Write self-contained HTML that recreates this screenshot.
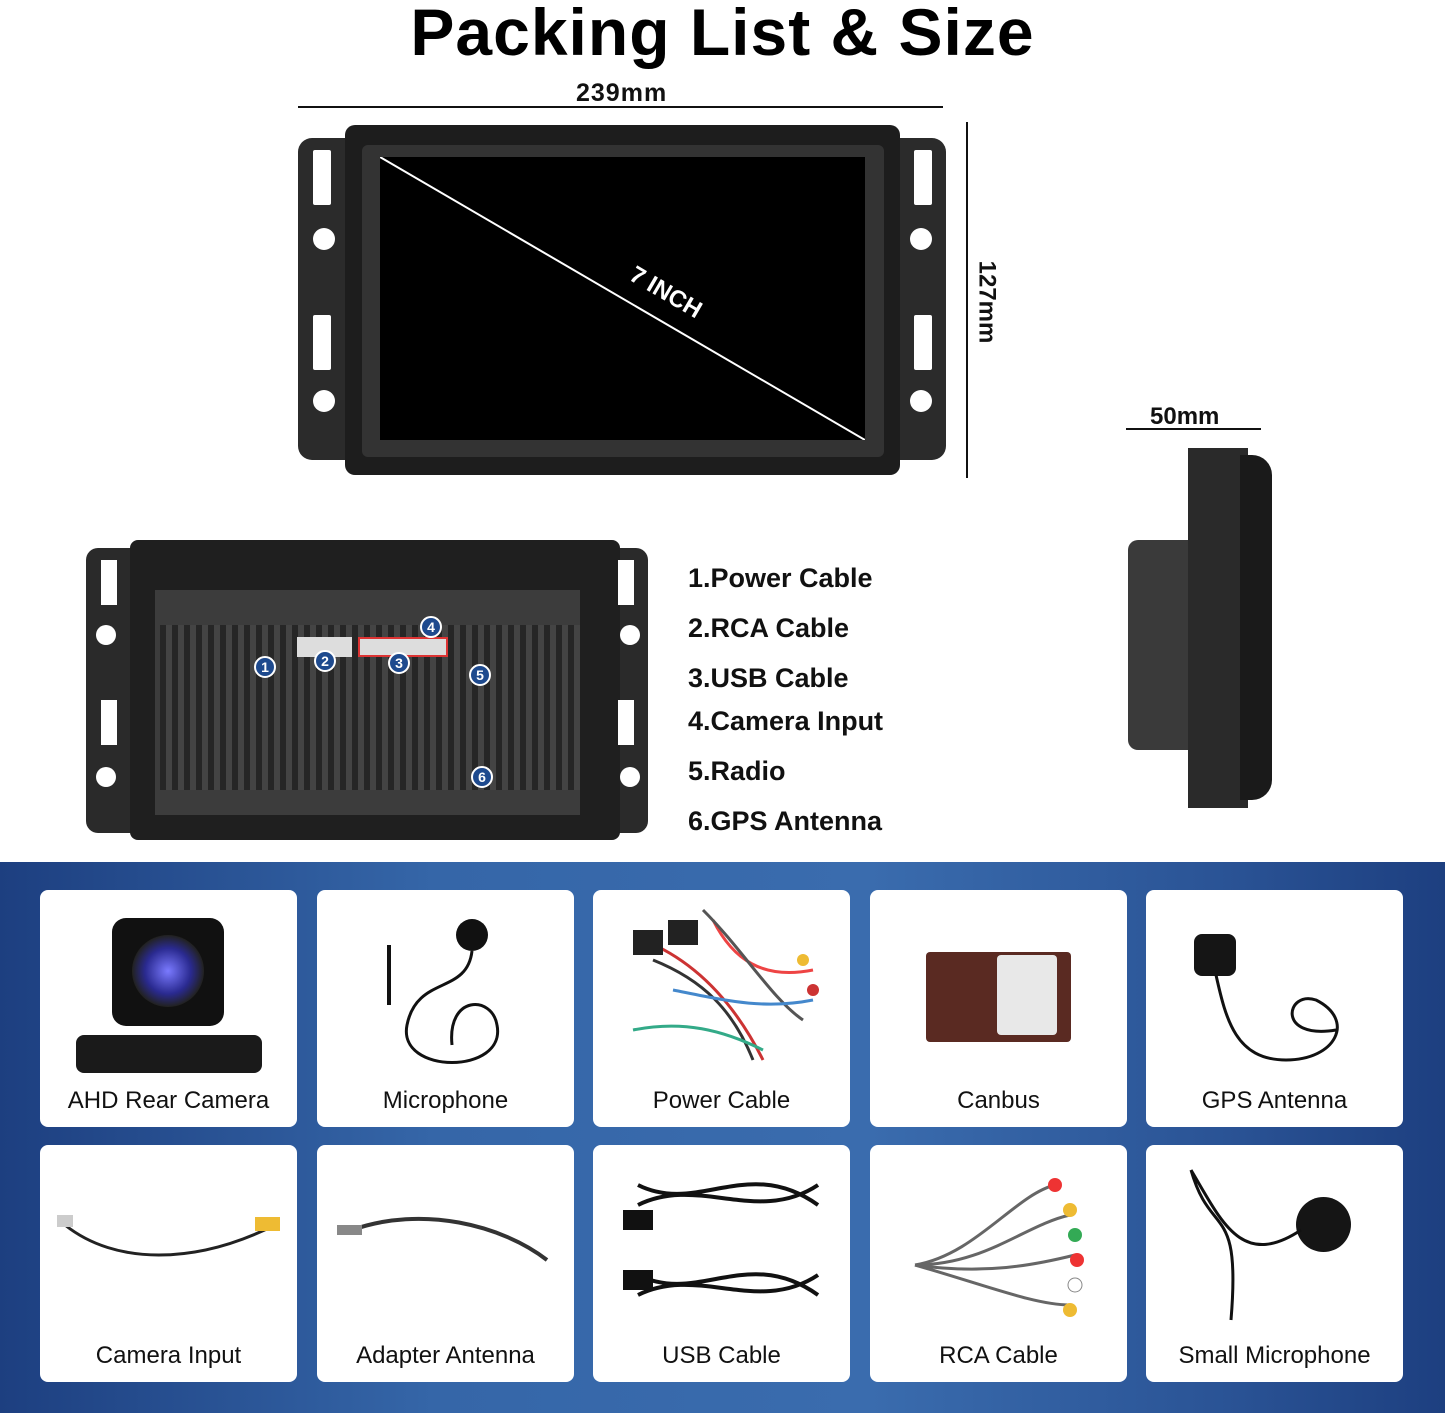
<!DOCTYPE html>
<html><head><meta charset="utf-8"><style>
*{margin:0;padding:0;box-sizing:border-box}
body{width:1445px;height:1413px;position:relative;background:#fff;font-family:"Liberation Sans",sans-serif;overflow:hidden}
.abs{position:absolute}
.title{left:0;width:1445px;top:-6px;text-align:center;font-size:66px;font-weight:900;letter-spacing:1px;color:#000}
.dim{font-size:24px;font-weight:bold;color:#111}
.list{left:688px;font-size:27px;font-weight:bold;color:#111}
.blue{left:0;top:862px;width:1445px;height:551px;background:linear-gradient(90deg,#1d3f80 0%,#3566a8 30%,#3a6cae 60%,#2a5395 85%,#1d3f80 100%)}
.card{position:absolute;width:257px;height:237px;background:#fff;border-radius:8px}
.card span{position:absolute;left:0;right:0;bottom:12px;text-align:center;font-size:24px;color:#111}
.badge{position:absolute;width:22px;height:22px;border-radius:50%;background:#1e4a8e;border:2px solid #fff;color:#fff;font-size:14px;font-weight:bold;text-align:center;line-height:18px}
</style></head><body>
<div class="abs title">Packing List &amp; Size</div>

<div class="abs dim" style="left:576px;top:79px;font-size:25px;letter-spacing:1px">239mm</div>
<div class="abs" style="left:298px;top:106px;width:645px;height:2px;background:#111"></div>
<div class="abs" style="left:966px;top:122px;width:2px;height:356px;background:#111"></div>
<div class="abs dim" style="left:945px;top:288px;transform:rotate(90deg);transform-origin:center">127mm</div>

<div class="abs" style="left:298px;top:138px;width:648px;height:322px;background:#2b2b2b;border-radius:14px"></div>
<div class="abs" style="left:345px;top:125px;width:555px;height:350px;background:#1d1d1d;border-radius:10px"></div>
<div class="abs" style="left:362px;top:145px;width:522px;height:312px;background:#333;border-radius:6px"></div>
<div class="abs" style="left:380px;top:157px;width:485px;height:283px;background:#000"></div>
<svg class="abs" style="left:380px;top:157px" width="485" height="283"><line x1="0" y1="0" x2="485" y2="283" stroke="#fff" stroke-width="2"/><text x="282" y="142" fill="#fff" font-family="Liberation Sans" font-weight="bold" font-size="24" transform="rotate(30.3 282 142)" text-anchor="middle">7 INCH</text></svg>
<div class="abs" style="left:313px;top:150px;width:18px;height:55px;background:#fff;border-radius:2px"></div>
<div class="abs" style="left:313px;top:315px;width:18px;height:55px;background:#fff;border-radius:2px"></div>
<div class="abs" style="left:313px;top:228px;width:22px;height:22px;background:#fff;border-radius:50%"></div>
<div class="abs" style="left:313px;top:390px;width:22px;height:22px;background:#fff;border-radius:50%"></div>
<div class="abs" style="left:914px;top:150px;width:18px;height:55px;background:#fff;border-radius:2px"></div>
<div class="abs" style="left:914px;top:315px;width:18px;height:55px;background:#fff;border-radius:2px"></div>
<div class="abs" style="left:910px;top:228px;width:22px;height:22px;background:#fff;border-radius:50%"></div>
<div class="abs" style="left:910px;top:390px;width:22px;height:22px;background:#fff;border-radius:50%"></div>

<div class="abs dim" style="left:1150px;top:403px">50mm</div>
<div class="abs" style="left:1126px;top:428px;width:135px;height:2px;background:#111"></div>
<div class="abs" style="left:1128px;top:540px;width:80px;height:210px;background:#3a3a3a;border-radius:10px"></div>
<div class="abs" style="left:1188px;top:448px;width:60px;height:360px;background:#2a2a2a"></div>
<div class="abs" style="left:1240px;top:455px;width:32px;height:345px;background:#1a1a1a;border-radius:0 20px 20px 0"></div>

<div class="abs" style="left:86px;top:548px;width:562px;height:285px;background:#2a2a2a;border-radius:12px"></div>
<div class="abs" style="left:130px;top:540px;width:490px;height:300px;background:#1f1f1f;border-radius:8px"></div>
<div class="abs" style="left:155px;top:590px;width:425px;height:225px;background:#3c3c3c"></div>
<div class="abs" style="left:160px;top:625px;width:420px;height:165px;background:repeating-linear-gradient(90deg,#262626 0 6px,#444 6px 12px)"></div>
<div class="abs" style="left:101px;top:560px;width:16px;height:45px;background:#fff"></div>
<div class="abs" style="left:101px;top:700px;width:16px;height:45px;background:#fff"></div>
<div class="abs" style="left:96px;top:625px;width:20px;height:20px;background:#fff;border-radius:50%"></div>
<div class="abs" style="left:96px;top:767px;width:20px;height:20px;background:#fff;border-radius:50%"></div>
<div class="abs" style="left:618px;top:560px;width:16px;height:45px;background:#fff"></div>
<div class="abs" style="left:618px;top:700px;width:16px;height:45px;background:#fff"></div>
<div class="abs" style="left:620px;top:625px;width:20px;height:20px;background:#fff;border-radius:50%"></div>
<div class="abs" style="left:620px;top:767px;width:20px;height:20px;background:#fff;border-radius:50%"></div>
<div class="abs" style="left:297px;top:637px;width:55px;height:20px;background:#ddd"></div>
<div class="abs" style="left:358px;top:637px;width:90px;height:20px;background:#ddd;border:2px solid #d33"></div>
<div class="badge" style="left:254px;top:656px">1</div>
<div class="badge" style="left:314px;top:650px">2</div>
<div class="badge" style="left:388px;top:652px">3</div>
<div class="badge" style="left:420px;top:616px">4</div>
<div class="badge" style="left:469px;top:664px">5</div>
<div class="badge" style="left:471px;top:766px">6</div>

<div class="abs list" style="top:563px">1.Power Cable</div>
<div class="abs list" style="top:613px">2.RCA Cable</div>
<div class="abs list" style="top:663px">3.USB Cable</div>
<div class="abs list" style="top:706px">4.Camera Input</div>
<div class="abs list" style="top:756px">5.Radio</div>
<div class="abs list" style="top:806px">6.GPS Antenna</div>

<div class="abs blue"></div>
<div class="card" style="left:40px;top:890px"><div class="abs" style="left:72px;top:28px;width:112px;height:108px;background:#111;border-radius:14px"></div><div class="abs" style="left:92px;top:45px;width:72px;height:72px;border-radius:50%;background:radial-gradient(#7a7aff,#2a2a90 45%,#222 70%)"></div><div class="abs" style="left:36px;top:145px;width:186px;height:38px;background:#1a1a1a;border-radius:8px"></div><span>AHD Rear Camera</span></div>
<div class="card" style="left:317px;top:890px"><svg class="abs" style="left:60px;top:25px" width="150" height="160"><circle cx="95" cy="20" r="16" fill="#111"/><path d="M95 36 C90 80 40 60 30 110 C20 160 130 160 120 110 C115 80 70 80 75 130" stroke="#111" stroke-width="3" fill="none"/><line x1="12" y1="30" x2="12" y2="90" stroke="#111" stroke-width="4"/></svg><span>Microphone</span></div>
<div class="card" style="left:593px;top:890px"><svg class="abs" style="left:20px;top:10px" width="220" height="170"><g stroke-width="3" fill="none"><path d="M30 40 C80 60 120 100 150 160" stroke="#c33"/><path d="M40 60 C90 80 120 110 140 160" stroke="#333"/><path d="M20 130 C70 120 110 130 150 150" stroke="#3a8"/><path d="M100 20 C120 60 150 80 200 70" stroke="#e44"/><path d="M90 10 C130 50 160 100 190 120" stroke="#555"/><path d="M60 90 C110 100 150 110 200 100" stroke="#48c"/></g><rect x="20" y="30" width="30" height="25" fill="#222"/><rect x="55" y="20" width="30" height="25" fill="#222"/><circle cx="190" cy="60" r="6" fill="#eb3"/><circle cx="200" cy="90" r="6" fill="#c33"/></svg><span>Power Cable</span></div>
<div class="card" style="left:870px;top:890px"><div class="abs" style="left:56px;top:62px;width:145px;height:90px;background:#5a2a22;border-radius:4px"></div><div class="abs" style="left:127px;top:65px;width:60px;height:80px;background:#e8e8e8;border-radius:4px"></div><span>Canbus</span></div>
<div class="card" style="left:1146px;top:890px"><div class="abs" style="left:48px;top:44px;width:42px;height:42px;background:#151515;border-radius:8px"></div><svg class="abs" style="left:60px;top:70px" width="160" height="120"><path d="M10 15 C20 60 30 100 80 100 C130 100 150 60 110 40 C80 30 70 80 130 70" stroke="#111" stroke-width="3" fill="none"/></svg><span>GPS Antenna</span></div>
<div class="card" style="left:40px;top:1145px"><svg class="abs" style="left:15px;top:60px" width="230" height="80"><path d="M10 20 C60 60 140 60 220 20" stroke="#222" stroke-width="3" fill="none"/><rect x="2" y="10" width="16" height="12" fill="#ccc"/><rect x="200" y="12" width="25" height="14" fill="#eb3"/></svg><span>Camera Input</span></div>
<div class="card" style="left:317px;top:1145px"><svg class="abs" style="left:15px;top:60px" width="230" height="80"><path d="M20 25 C90 0 170 20 215 55" stroke="#333" stroke-width="4" fill="none"/><rect x="5" y="20" width="25" height="10" fill="#888"/></svg><span>Adapter Antenna</span></div>
<div class="card" style="left:593px;top:1145px"><svg class="abs" style="left:25px;top:20px" width="210" height="150"><path d="M20 20 C80 50 130 -10 200 40 M20 40 C80 10 140 60 200 20" stroke="#111" stroke-width="4" fill="none"/><path d="M20 110 C80 140 130 80 200 130 M20 130 C80 100 140 150 200 110" stroke="#111" stroke-width="4" fill="none"/><rect x="5" y="45" width="30" height="20" fill="#111"/><rect x="5" y="105" width="30" height="20" fill="#111"/></svg><span>USB Cable</span></div>
<div class="card" style="left:870px;top:1145px"><svg class="abs" style="left:25px;top:20px" width="215" height="160"><g stroke-width="3" fill="none" stroke="#666"><path d="M20 100 C80 90 120 30 160 20"/><path d="M20 100 C90 100 130 60 175 50"/><path d="M20 100 C90 110 140 100 180 90"/><path d="M20 100 C90 120 140 140 175 140"/></g><circle cx="160" cy="20" r="7" fill="#e33"/><circle cx="175" cy="45" r="7" fill="#eb3"/><circle cx="180" cy="70" r="7" fill="#3a5"/><circle cx="182" cy="95" r="7" fill="#e33"/><circle cx="180" cy="120" r="7" fill="#fff" stroke="#888"/><circle cx="175" cy="145" r="7" fill="#eb3"/></svg><span>RCA Cable</span></div>
<div class="card" style="left:1146px;top:1145px"><div class="abs" style="left:150px;top:52px;width:55px;height:55px;background:#151515;border-radius:50%"></div><svg class="abs" style="left:35px;top:15px" width="130" height="170"><path d="M10 10 C40 60 60 110 120 70 M10 10 C30 80 60 40 50 160" stroke="#111" stroke-width="3" fill="none"/></svg><span>Small Microphone</span></div>
</body></html>
